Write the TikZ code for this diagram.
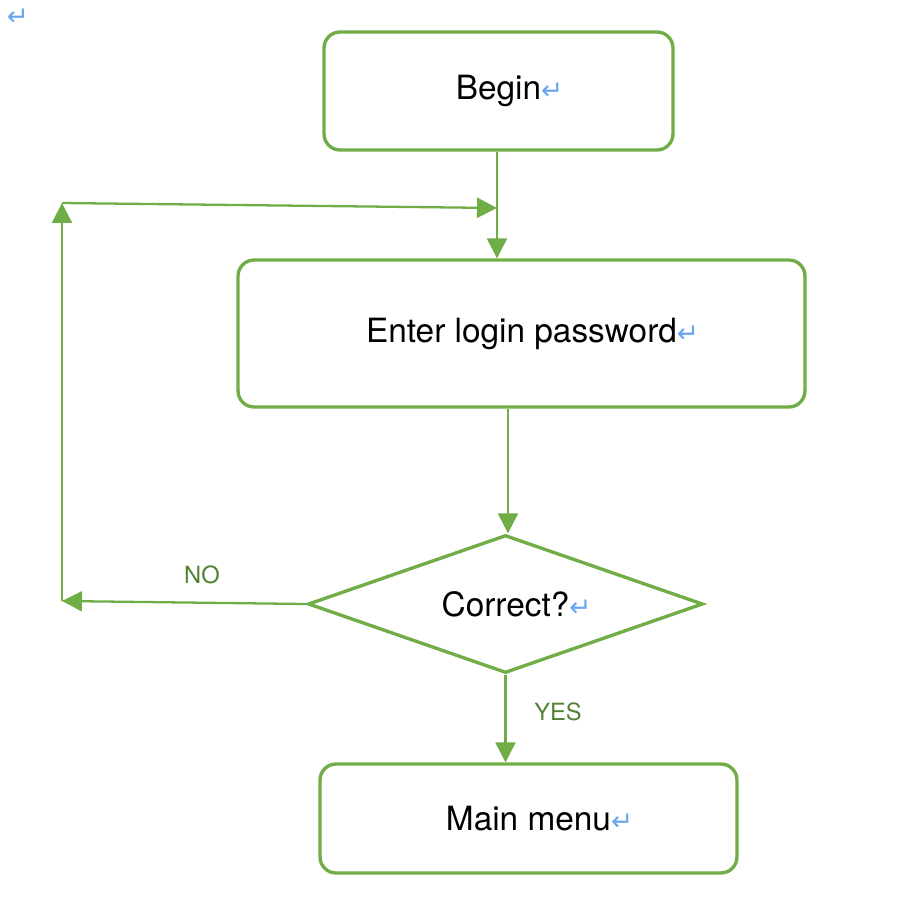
\documentclass[tikz,border=0pt]{standalone}
\usepackage{fontspec}
\setmainfont{TeX Gyre Heros}
\newfontfamily\symfont{DejaVu Sans}
\usetikzlibrary{shapes.geometric,arrows.meta}
\definecolor{lgreen}{HTML}{70AD47}
\definecolor{dgreen}{HTML}{548235}
\definecolor{pmark}{HTML}{6AA5F0}
\newcommand{\pmk}{\rlap{\color{pmark}\symfont\fontsize{15}{15}\selectfont ↵}}
\tikzset{
  box/.style={draw=lgreen,line width=1.9pt,rounded corners=0.32cm,fill=white,font=\fontsize{19}{21}\selectfont},
  arr/.style={lgreen,line width=1.3pt,-{Triangle[length=0.4cm,width=0.4cm]}},
  lbl/.style={text=dgreen,font=\fontsize{13.5}{15}\selectfont}
}
\begin{document}
\begin{tikzpicture}[x=0.02cm,y=-0.02cm]
  \useasboundingbox (0,0) rectangle (913,899);
  \node (pm) at (18,17) {\color{pmark}\symfont\fontsize{15}{15}\selectfont ↵};
  \node[box,minimum width=6.98cm,minimum height=2.36cm] (begin) at (498.5,91) {Begin\pmk};
  \node[box,minimum width=11.34cm,minimum height=2.94cm] (enter) at (521.5,333.5) {Enter login password\pmk};
  \node[draw=lgreen,line width=1.9pt,diamond,aspect=2.86,minimum width=7.9cm,minimum height=2.76cm,inner sep=0pt,font=\fontsize{19}{21}\selectfont] (check) at (505.5,604) {Correct?\pmk};
  \node[box,minimum width=8.34cm,minimum height=2.18cm] (menu) at (528.5,818.5) {Main menu\pmk};
  \coordinate (nobot) at (62,601);
  \coordinate (notop) at (62,203);
  \coordinate (join) at (497,208);
  \draw[arr] (begin.south -| join) -- (join |- enter.north);
  \draw[arr] (enter.south -| 508,0) -- (check.north -| 508,0);
  \draw[arr] (check.south) -- (menu.north -| check.south);
  \draw[arr] (check.west) -- (nobot);
  \draw[arr] (nobot) -- (notop);
  \draw[arr] (notop) -- (join);
  \node[lbl] (no) at (202,575) {NO};
  \node[lbl] (yes) at (558,712) {YES};
\end{tikzpicture}
\end{document}
